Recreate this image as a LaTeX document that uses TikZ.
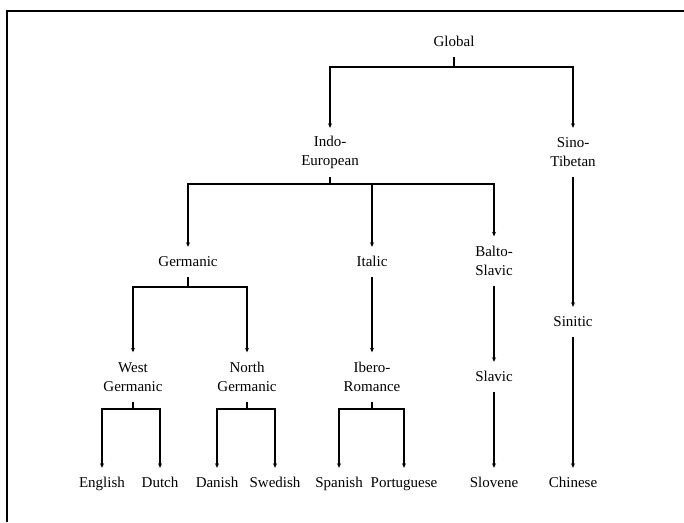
\documentclass[tikz,border=0pt]{standalone}
\usepackage{fontspec}
\setmainfont{Liberation Serif}
\usetikzlibrary{arrows.meta}
\begin{document}
\begin{tikzpicture}[x=1pt,y=-1pt,
  lang/.style={align=center, inner xsep=2pt, inner ysep=8pt,
    text height=11pt, text depth=3pt, font=\fontsize{15}{19}\selectfont},
  lang2/.style={align=center, inner xsep=2pt, inner ysep=0pt,
    minimum height=49pt, font=\fontsize{15}{19}\selectfont},
  link/.style={line width=1.8pt, -{Stealth[length=4.5pt,width=4pt]}},
  frame/.style={line width=1.6pt}]
\useasboundingbox (0,0) rectangle (684,522);
\draw[frame] (7,522) -- (7,11) -- (684,11);

% language family nodes
\node[lang]  (glob)   at (454,42)    {Global};
\node[lang2] (ie)     at (330,152.5) {Indo-\\European};
\node[lang2] (st)     at (573,152.5) {Sino-\\Tibetan};
\node[lang]  (germ)   at (188,262)   {Germanic};
\node[lang]  (ital)   at (372,262)   {Italic};
\node[lang2] (balto)  at (494,261)   {Balto-\\Slavic};
\node[lang]  (sinit)  at (573,322)   {Sinitic};
\node[lang2] (westg)  at (133,377)   {West\\Germanic};
\node[lang2] (northg) at (247,377)   {North\\Germanic};
\node[lang2] (ibero)  at (372,377)   {Ibero-\\Romance};
\node[lang]  (slavic) at (494,377)   {Slavic};

% leaf languages
\node[lang] (eng)  at (102,483) {English};
\node[lang] (dut)  at (160,483) {Dutch};
\node[lang] (dan)  at (217,483) {Danish};
\node[lang] (swe)  at (275,483) {Swedish};
\node[lang] (spa)  at (339,483) {Spanish};
\node[lang] (por)  at (404,483) {Portuguese};
\node[lang] (slo)  at (494,483) {Slovene};
\node[lang] (chi)  at (573,483) {Chinese};

% branching connectors
\draw[link] (glob.south) -- ++(0,10) -| (ie.north);
\draw[link] (glob.south) -- ++(0,10) -| (st.north);

\draw[link] (ie.south) -- ++(0,7) -| (germ.north);
\draw[link] (ie.south) -- ++(0,7) -| (ital.north);
\draw[link] (ie.south) -- ++(0,7) -| (balto.north);

\draw[link] (germ.south) -- ++(0,10) -| (westg.north);
\draw[link] (germ.south) -- ++(0,10) -| (northg.north);

\draw[link] (westg.south) -- ++(0,7.5) -| (eng.north);
\draw[link] (westg.south) -- ++(0,7.5) -| (dut.north);
\draw[link] (northg.south) -- ++(0,7.5) -| (dan.north);
\draw[link] (northg.south) -- ++(0,7.5) -| (swe.north);
\draw[link] (ibero.south) -- ++(0,7.5) -| (spa.north);
\draw[link] (ibero.south) -- ++(0,7.5) -| (por.north);

% single-child chains
\draw[link] (ital.south) -- (ibero.north);
\draw[link] (balto.south) -- (slavic.north);
\draw[link] (slavic.south) -- (slo.north);
\draw[link] (st.south) -- (sinit.north);
\draw[link] (sinit.south) -- (chi.north);
\end{tikzpicture}
\end{document}
